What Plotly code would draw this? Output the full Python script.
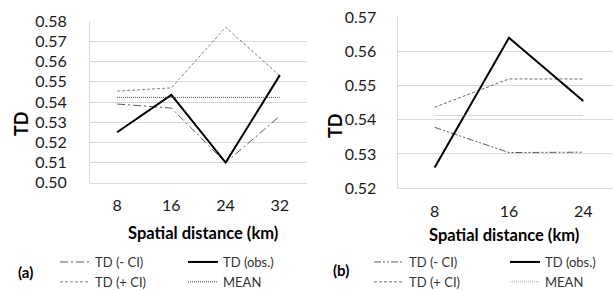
import plotly.graph_objects as go

# ---- data ----
cats_a = ["8", "16", "24", "32"]
a_minus_ci = [0.539, 0.537, 0.510, 0.533]
a_obs = [0.525, 0.5435, 0.510, 0.5533]
a_plus_ci = [0.5454, 0.547, 0.577, 0.553]
a_mean = [0.5423, 0.5423, 0.5423, 0.5423]

cats_b = ["8", "16", "24"]
b_minus_ci = [0.5378, 0.5304, 0.5305]
b_obs = [0.526, 0.5641, 0.5455]
b_plus_ci = [0.5437, 0.552, 0.552]
b_mean = [0.5413, 0.5413, 0.5413]

yticks_a = [0.50, 0.51, 0.52, 0.53, 0.54, 0.55, 0.56, 0.57, 0.58]
yticks_b = [0.52, 0.53, 0.54, 0.55, 0.56, 0.57]

W, H = 613, 291
FONT = "Lato, 'Open Sans', sans-serif"
TXT = "#1a1a1a"
GRID = "#d9d9d9"

def px(x):
    return x / W

def py(y):
    return 1 - y / H

fig = go.Figure()

# panel (a)
fig.add_trace(go.Scatter(x=cats_a, y=a_minus_ci, name="TD (- CI)", mode="lines",
                         line=dict(color="#595959", width=1, dash="8px,3px,2px,3px"),
                         xaxis="x", yaxis="y", legend="legend"))
fig.add_trace(go.Scatter(x=cats_a, y=a_plus_ci, name="TD (+ CI)", mode="lines",
                         line=dict(color="#808080", width=1, dash="3px,2px"),
                         xaxis="x", yaxis="y", legend="legend"))
fig.add_trace(go.Scatter(x=cats_a, y=a_obs, name="TD (obs.)", mode="lines",
                         line=dict(color="#000000", width=2),
                         xaxis="x", yaxis="y", legend="legend2"))
fig.add_trace(go.Scatter(x=cats_a, y=a_mean, name="MEAN", mode="lines",
                         line=dict(color="#404040", width=1, dash="1px,1px"),
                         xaxis="x", yaxis="y", legend="legend2"))

# panel (b)
fig.add_trace(go.Scatter(x=cats_b, y=b_minus_ci, name="TD (- CI)", mode="lines",
                         line=dict(color="#595959", width=1, dash="7px,2px,2px,2px,2px,2px"),
                         xaxis="x2", yaxis="y2", legend="legend3"))
fig.add_trace(go.Scatter(x=cats_b, y=b_plus_ci, name="TD (+ CI)", mode="lines",
                         line=dict(color="#666666", width=1, dash="3px,2px"),
                         xaxis="x2", yaxis="y2", legend="legend3"))
fig.add_trace(go.Scatter(x=cats_b, y=b_obs, name="TD (obs.)", mode="lines",
                         line=dict(color="#000000", width=2),
                         xaxis="x2", yaxis="y2", legend="legend4"))
fig.add_trace(go.Scatter(x=cats_b, y=b_mean, name="MEAN", mode="lines",
                         line=dict(color="#a6a6a6", width=1, dash="1px,1px"),
                         xaxis="x2", yaxis="y2", legend="legend4"))

xcommon = dict(type="category", showgrid=False, showline=True, linecolor=GRID, linewidth=1,
               ticks="", tickfont=dict(family=FONT, size=16, color=TXT), automargin=False,
               ticklabelstandoff=8, fixedrange=True, zeroline=False)
ycommon = dict(showgrid=True, gridcolor=GRID, gridwidth=1, showline=True, linecolor=GRID,
               linewidth=1, ticks="", tickformat=".2f", zeroline=False, automargin=False,
               tickfont=dict(family=FONT, size=16, color=TXT))

legcommon = dict(orientation="v", bgcolor="rgba(0,0,0,0)", borderwidth=0,
                 font=dict(family=FONT, size=13, color="#333333"),
                 xanchor="left", yanchor="top", tracegroupgap=0, itemclick=False,
                 itemdoubleclick=False)

fig.update_layout(
    template="none",
    width=W, height=H,
    margin=dict(l=0, r=0, t=0, b=0, autoexpand=False),
    paper_bgcolor="white", plot_bgcolor="white",
    showlegend=True,
    xaxis=dict(xcommon, domain=[px(90), px(307)], range=[-0.5, 3.5], anchor="y"),
    yaxis=dict(ycommon, domain=[py(183), py(21)], range=[0.4999, 0.5801],
               tickvals=yticks_a, anchor="x", ticklabelstandoff=19),
    xaxis2=dict(xcommon, domain=[px(397.5), 1.0], range=[-0.5, 2.4], anchor="y2"),
    yaxis2=dict(ycommon, domain=[py(188.3), py(17.3)], range=[0.5199, 0.5701],
                tickvals=yticks_b, anchor="x2", ticklabelstandoff=17),
    legend=dict(legcommon, x=px(55), y=py(247)),
    legend2=dict(legcommon, x=px(183), y=py(247)),
    legend3=dict(legcommon, x=px(369), y=py(247)),
    legend4=dict(legcommon, x=px(505), y=py(247)),
)

def note(text, x, y, size, angle=0):
    return dict(text=text, x=px(x), y=py(y), textangle=angle, showarrow=False,
                xanchor="center", yanchor="middle", xref="paper", yref="paper",
                font=dict(family=FONT, size=size, color="#000"))

ann = [
    note("<b>TD</b>", 21, 124, 18, -90),
    note("<b>TD</b>", 335, 126, 18, -90),
    note("<b>Spatial distance (km)</b>", 203, 233, 16.5),
    note("<b>Spatial distance (km)</b>", 504, 235, 16.5),
    note("<b>(a)</b>", 25, 272, 15),
    note("<b>(b)</b>", 341, 270, 15),
]
fig.update_layout(annotations=ann)

fig.write_html("out.html", config=dict(displayModeBar=False, staticPlot=True),
               post_script="document.body.style.margin='0';document.body.style.padding='0';")
